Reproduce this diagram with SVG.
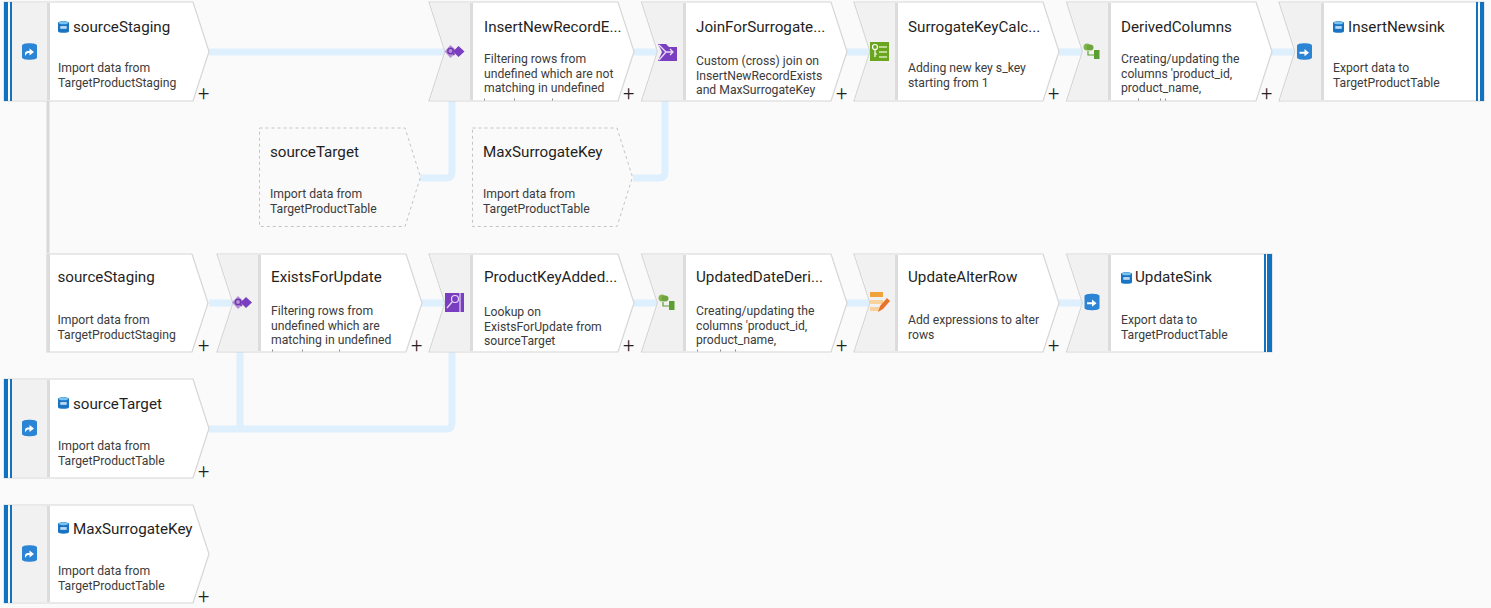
<svg xmlns="http://www.w3.org/2000/svg" width="1491" height="608" viewBox="0 0 1491 608">
<style>
text{font-family:Roboto,"Open Sans","Liberation Sans",sans-serif;}
.t{font-size:15.2px;fill:#1f1f1f;}
.d{font-size:12.2px;fill:#3c3c3c;}
.plus{font-size:20px;font-weight:300;fill:#222;}
.body{fill:#fff;stroke:#d6d6d6;stroke-width:1.2;}
.band{fill:#f1f1f1;}
.div{fill:#dcdcdc;}
.ghost{fill:#fafafa;stroke:#c4c4c4;stroke-width:1;stroke-dasharray:3 3;}
.bar{fill:#1272bf;}
.c{fill:none;stroke:#deeffd;stroke-width:7;stroke-linejoin:round;}
.trunk{fill:none;stroke:#d8d8d8;stroke-width:3;}
.tick{fill:#8a8a8a;}
</style>
<defs>
<symbol id="db" viewBox="0 0 12 14"><path d="M0 2.500C0 .3 12 .3 12 2.500V11.500C12 13.700 0 13.700 0 11.500Z" fill="#1a74c4"/><ellipse cx="6" cy="2.500" rx="5" ry="1.400" fill="#7cc4ee"/><rect x="2.500" y="6" width="7" height="3" fill="#bcdcf2"/></symbol>
<g id="src"><path d="M-7.500 -6.500C-7.500 -9.500 7.500 -9.500 7.500 -6.500V5.500C7.500 8.500 -7.500 8.500 -7.500 5.500Z" fill="#2b84d4"/><path d="M-4.500 4V1.500C-4.500 -.5 -3 -1 0 -1V-3.500L4.500 0L0 3.500V1C-2 1-3 1.500-4.500 4Z" fill="#fff"/></g>
<g id="snk"><path d="M-7.500 -6.500C-7.500 -9.500 7.500 -9.500 7.500 -6.500V5.500C7.500 8.500 -7.500 8.500 -7.500 5.500Z" fill="#2b84d4"/><path d="M-5 -.3H0V-3L4.500 .7L0 4.300V1.700H-5Z" fill="#fff"/></g>
<g id="ex"><path d="M-5 -6.500L2 0L-5 6.500L-11 0Z" fill="#b78fd6"/><path d="M3 -5.500L9 0L3 5.500L-2.500 0Z" fill="#7a3fc0"/><circle cx="-5" cy="-.5" r="2.700" fill="none" stroke="#6f38b0" stroke-width="1.500"/><path d="M-3 1.500L-1 3.500" stroke="#6f38b0" stroke-width="1.500"/></g>
<g id="dv"><circle cx="-5" cy="-5" r="3.500" fill="#82b54b"/><ellipse cx="-2" cy="-4.500" rx="3.500" ry="3" fill="#6fa53c"/><rect x="2" y="-2" width="5.500" height="9" fill="#5c9e31"/><path d="M-4 -1V3H2" fill="none" stroke="#5c9e31" stroke-width="1.200"/></g>
</defs>
<rect width="1491" height="608" fill="#fafafa"/>
<g id="connectors">
<path class="trunk" d="M48 100V253"/>
<path class="c" d="M209 52H445"/>
<path class="c" d="M420 178H446Q452 178 452 172V101"/>
<path class="c" d="M634 52H657"/>
<path class="c" d="M633 178H659Q665 178 665 172V101"/>
<path class="c" d="M846 52H870"/>
<path class="c" d="M1059 52H1082"/>
<path class="c" d="M1271 52H1295"/>
<path class="c" d="M209 303H233"/>
<path class="c" d="M421 303H445"/>
<path class="c" d="M634 303H657"/>
<path class="c" d="M846 303H870"/>
<path class="c" d="M1059 303H1082"/>
<path class="c" d="M209 429H446Q452 429 452 423V352"/>
<path class="c" d="M240 352V429"/>
</g>
<g id="n1"><path class="body" d="M4 2H193L209 51.500L193 101H4Z"/><rect class="bar" x="4" y="2" width="4" height="99"/><rect class="bar" x="10" y="2" width="2" height="99"/><rect class="band" x="12" y="3" width="35" height="97"/><rect class="div" x="47" y="3" width="3" height="97"/><use href="#src" x="29.500" y="52"/><use href="#db" x="58" y="20" width="11" height="14"/><text class="t" x="73" y="32">sourceStaging</text><text class="d" x="58" y="72">Import data from</text><text class="d" x="58" y="87">TargetProductStaging</text><text class="plus" x="198" y="100">+</text></g>
<g id="n2"><path class="body" d="M429 2H618L634 51.500L618 101H429L445 51.500Z"/><path class="band" d="M430 3H470V100H430L446 51.500Z"/><rect class="div" x="470" y="3" width="3" height="97"/><use href="#ex" x="455.500" y="51.500"/><text class="t" x="484" y="32">InsertNewRecordE...</text><text class="d" x="484" y="63">Filtering rows from</text><text class="d" x="484" y="77.500">undefined which are not</text><text class="d" x="484" y="92">matching in undefined</text><rect class="tick" x="484" y="98.500" width="1" height="2"/><rect class="tick" x="514" y="98.500" width="1" height="2"/><rect class="tick" x="552" y="98.500" width="1" height="2"/><text class="plus" x="623" y="100">+</text></g>
<g id="n3"><path class="body" d="M641.500 2H831L847 51.500L831 101H641.500L657.500 51.500Z"/><path class="band" d="M642.500 3H683V100H642.500L658.500 51.500Z"/><rect class="div" x="683" y="3" width="3" height="97"/><path d="M658 44H666L669 47H677V61H658L662 52Z" fill="#7a3fc0"/><path d="M659 45L666 52H673M659 60L666 52M670 49L673 52L670 55" stroke="#eadcf6" stroke-width="1.300" fill="none"/><text class="t" x="696" y="32">JoinForSurrogate...</text><text class="d" x="696" y="65">Custom (cross) join on</text><text class="d" x="696" y="79.500">InsertNewRecordExists</text><text class="d" x="696" y="94">and MaxSurrogateKey</text><text class="plus" x="836" y="100">+</text></g>
<g id="n4"><path class="body" d="M854 2H1043L1059 51.500L1043 101H854L870 51.500Z"/><path class="band" d="M855 3H895V100H855L871 51.500Z"/><rect class="div" x="895" y="3" width="3" height="97"/><rect x="870" y="42" width="19" height="19" fill="#6aa51f"/><circle cx="875" cy="47" r="2.500" fill="none" stroke="#fff" stroke-width="1.200"/><path d="M875 50V57M875 54H877" stroke="#fff" stroke-width="1.200"/><path d="M879 47H887M879 52H887M879 57H887" stroke="#d6ecb5" stroke-width="1.500"/><text class="t" x="908" y="32">SurrogateKeyCalc...</text><text class="d" x="908" y="72">Adding new key s_key</text><text class="d" x="908" y="87">starting from 1</text><text class="plus" x="1048" y="100">+</text></g>
<g id="n5"><path class="body" d="M1066.500 2H1256L1272 51.500L1256 101H1066.500L1082.500 51.500Z"/><path class="band" d="M1067.500 3H1108V100H1067.500L1083.500 51.500Z"/><rect class="div" x="1108" y="3" width="3" height="97"/><use href="#dv" x="1092" y="52"/><text class="t" x="1121" y="32">DerivedColumns</text><text class="d" x="1121" y="63">Creating/updating the</text><text class="d" x="1121" y="77.500">columns 'product_id,</text><text class="d" x="1121" y="92">product_name,</text><rect class="tick" x="1138" y="98.500" width="1" height="2"/><rect class="tick" x="1160" y="98.500" width="1" height="2"/><rect class="tick" x="1165" y="98.500" width="1" height="2"/><text class="plus" x="1261" y="100">+</text></g>
<g id="n6"><path class="body" d="M1279 2H1484V101H1279L1295 51.500Z"/><path class="band" d="M1280 3H1321V100H1280L1296 51.500Z"/><rect class="div" x="1321" y="3" width="3" height="97"/><rect class="bar" x="1476" y="2" width="2" height="99"/><rect class="bar" x="1480" y="2" width="4" height="99"/><use href="#snk" x="1304.500" y="52"/><use href="#db" x="1333" y="20" width="11" height="14"/><text class="t" x="1348" y="32">InsertNewsink</text><text class="d" x="1333" y="72">Export data to</text><text class="d" x="1333" y="87">TargetProductTable</text></g>
<g id="n7"><path class="ghost" d="M259.500 128H405L420.500 177L405 226.500H259.500Z"/><text class="t" x="270" y="157">sourceTarget</text><text class="d" x="270" y="198">Import data from</text><text class="d" x="270" y="212.500">TargetProductTable</text></g>
<g id="n8"><path class="ghost" d="M472.500 128H617L632.500 177L617 226.500H472.500Z"/><text class="t" x="483" y="157">MaxSurrogateKey</text><text class="d" x="483" y="198">Import data from</text><text class="d" x="483" y="212.500">TargetProductTable</text></g>
<g id="n9"><path class="body" d="M47 254H192L208 303L192 352H47Z"/><rect class="div" x="47" y="254" width="3" height="98"/><text class="t" x="57.500" y="282">sourceStaging</text><text class="d" x="57.500" y="324">Import data from</text><text class="d" x="57.500" y="339">TargetProductStaging</text><text class="plus" x="198" y="352">+</text></g>
<g id="n10"><path class="body" d="M217 254H406L422 303L406 352H217L233 303Z"/><path class="band" d="M218 255H258V351H218L234 303Z"/><rect class="div" x="258" y="255" width="3" height="96"/><use href="#ex" x="243" y="302.500"/><text class="t" x="271" y="282">ExistsForUpdate</text><text class="d" x="271" y="315">Filtering rows from</text><text class="d" x="271" y="329.500">undefined which are</text><text class="d" x="271" y="344">matching in undefined</text><rect class="tick" x="272" y="349.500" width="1" height="2"/><rect class="tick" x="302" y="349.500" width="1" height="2"/><rect class="tick" x="339" y="349.500" width="1" height="2"/><text class="plus" x="411" y="352">+</text></g>
<g id="n11"><path class="body" d="M429 254H618L634 303L618 352H429L445 303Z"/><path class="band" d="M430 255H470V351H430L446 303Z"/><rect class="div" x="470" y="255" width="3" height="96"/><rect x="445" y="293" width="19" height="19" fill="#7a3fc0"/><circle cx="455" cy="299" r="3.500" fill="none" stroke="#e8daf5" stroke-width="1.200"/><path d="M452 302L447 308M460 293V312" stroke="#e8daf5" stroke-width="1.200"/><text class="t" x="484" y="282">ProductKeyAdded...</text><text class="d" x="484" y="316">Lookup on</text><text class="d" x="484" y="330.500">ExistsForUpdate from</text><text class="d" x="484" y="345">sourceTarget</text><text class="plus" x="623" y="352">+</text></g>
<g id="n12"><path class="body" d="M641.500 254H831L847 303L831 352H641.500L657.500 303Z"/><path class="band" d="M642.500 255H683V351H642.500L658.500 303Z"/><rect class="div" x="683" y="255" width="3" height="96"/><use href="#dv" x="667" y="303"/><text class="t" x="696" y="282">UpdatedDateDeri...</text><text class="d" x="696" y="315">Creating/updating the</text><text class="d" x="696" y="329.500">columns 'product_id,</text><text class="d" x="696" y="344">product_name,</text><rect class="tick" x="697" y="349.500" width="1" height="2"/><rect class="tick" x="720" y="349.500" width="1" height="2"/><rect class="tick" x="735" y="349.500" width="1" height="2"/><text class="plus" x="836" y="352">+</text></g>
<g id="n13"><path class="body" d="M854 254H1043L1059 303L1043 352H854L870 303Z"/><path class="band" d="M855 255H895V351H855L871 303Z"/><rect class="div" x="895" y="255" width="3" height="96"/><rect x="870" y="292" width="13" height="5" fill="#f2a23a"/><rect x="870" y="300" width="13" height="4" fill="#f8d29c"/><rect x="870" y="307" width="9" height="4" fill="#f8d29c"/><path d="M878 312L880 306L887 298L890 301L883 309Z" fill="#e8742a"/><text class="t" x="908" y="282">UpdateAlterRow</text><text class="d" x="908" y="324">Add expressions to alter</text><text class="d" x="908" y="339">rows</text><text class="plus" x="1048" y="352">+</text></g>
<g id="n14"><path class="body" d="M1066.500 254H1272V352H1066.500L1082.500 303Z"/><path class="band" d="M1067.500 255H1108V351H1067.500L1083.500 303Z"/><rect class="div" x="1108" y="255" width="3" height="96"/><rect class="bar" x="1264" y="254" width="2" height="98"/><rect class="bar" x="1267" y="254" width="5" height="98"/><use href="#snk" x="1092" y="302.500"/><use href="#db" x="1121" y="271" width="11" height="14"/><text class="t" x="1135" y="282">UpdateSink</text><text class="d" x="1121" y="324">Export data to</text><text class="d" x="1121" y="339">TargetProductTable</text></g>
<g id="n15"><path class="body" d="M4 379H193L209 428.500L193 478H4Z"/><rect class="bar" x="4" y="379" width="4" height="99"/><rect class="bar" x="10" y="379" width="2" height="99"/><rect class="band" x="12" y="380" width="35" height="97"/><rect class="div" x="47" y="380" width="3" height="97"/><use href="#src" x="29.500" y="428.500"/><use href="#db" x="58" y="396" width="11" height="14"/><text class="t" x="73" y="409">sourceTarget</text><text class="d" x="58" y="450">Import data from</text><text class="d" x="58" y="464.500">TargetProductTable</text><text class="plus" x="198" y="478">+</text></g>
<g id="n16"><path class="body" d="M4 505H193L209 554L193 603H4Z"/><rect class="bar" x="4" y="505" width="4" height="98"/><rect class="bar" x="10" y="505" width="2" height="98"/><rect class="band" x="12" y="506" width="35" height="96"/><rect class="div" x="47" y="506" width="3" height="96"/><use href="#src" x="29.500" y="554"/><use href="#db" x="58" y="521" width="11" height="14"/><text class="t" x="73" y="534">MaxSurrogateKey</text><text class="d" x="58" y="575">Import data from</text><text class="d" x="58" y="590">TargetProductTable</text><text class="plus" x="198" y="603">+</text></g>
</svg>
